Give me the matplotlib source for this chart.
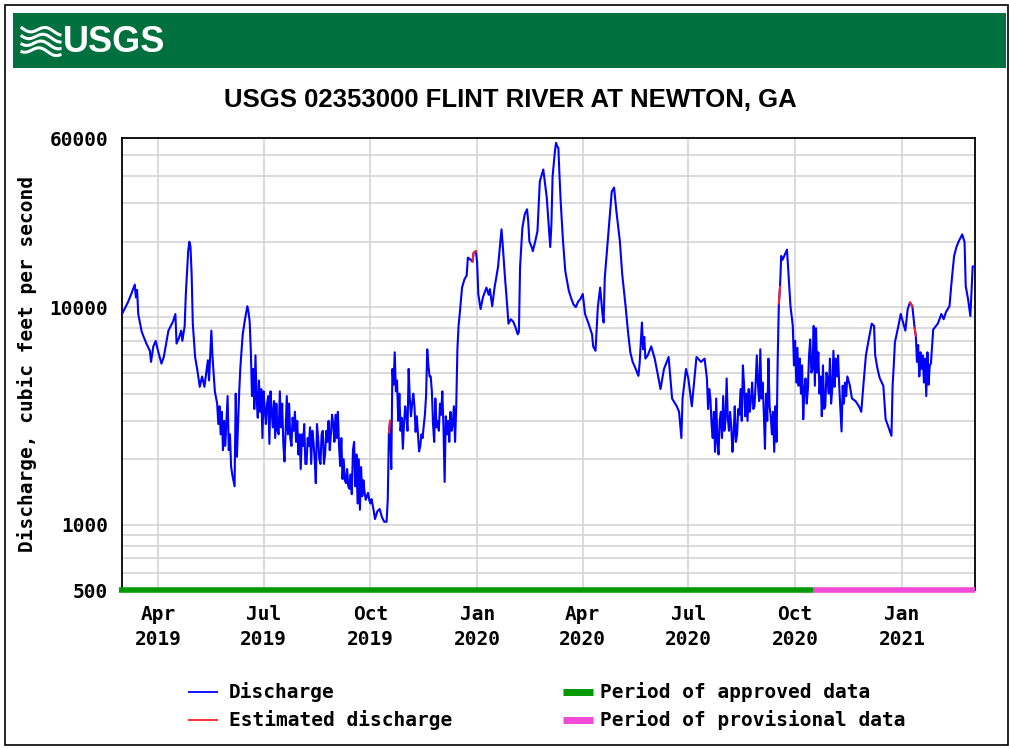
import matplotlib
matplotlib.use('Agg')
import matplotlib.pyplot as plt
from matplotlib.lines import Line2D
from matplotlib.patches import Rectangle
import numpy as np
import pandas as pd

# daily discharge: days since 2019-03-01, cubic feet per second
day = [0, 5, 8, 11, 12, 13, 14, 17, 21, 24, 25, 27, 29, 31, 34, 36, 40, 42, 44, 46,
       47, 49, 51, 52, 54, 55, 57, 58, 59, 60, 61, 63, 65, 67, 69, 71, 74, 75, 77, 78,
       80, 82, 83, 84, 85, 86, 87, 88, 89, 91, 92, 93, 94, 95, 97, 98, 99, 101, 102, 104,
       106, 108, 109, 110, 111, 112, 113, 114, 115, 116, 117, 118, 119, 120, 121, 122, 124, 125, 127, 128,
       130, 132, 133, 134, 136, 137, 139, 140, 142, 143, 145, 147, 149, 150, 152, 153, 154, 156, 158, 160,
       162, 163, 165, 167, 168, 170, 172, 174, 176, 178, 179, 181, 183, 184, 185, 186, 187, 188, 189, 190,
       193, 196, 198, 200, 201, 202, 203, 204, 205, 206, 207, 208, 209, 211, 213, 215, 217, 218, 220, 222,
       224, 226, 228, 229, 230, 231, 232, 233, 235, 236, 237, 238, 239, 240, 242, 243, 245, 247, 248, 249,
       251, 253, 254, 256, 258, 260, 262, 263, 264, 266, 267, 268, 269, 270, 271, 272, 274, 276, 277, 278,
       279, 280, 282, 283, 284, 286, 287, 288, 289, 290, 291, 293, 295, 297, 298, 300, 302, 303, 305, 306,
       307, 309, 311, 314, 316, 317, 319, 321, 324, 326, 327, 328, 330, 332, 333, 335, 337, 339, 341, 342,
       343, 345, 347, 349, 350, 351, 353, 354, 356, 358, 360, 363, 364, 366, 368, 369, 370, 371, 373, 374,
       375, 376, 377, 378, 380, 382, 385, 387, 389, 391, 393, 395, 397, 399, 402, 405, 406, 408, 410, 412,
       414, 415, 416, 419, 422, 424, 426, 429, 431, 434, 436, 438, 440, 442, 445, 446, 448, 449, 450, 451,
       453, 456, 459, 462, 464, 467, 471, 474, 478, 480, 482, 483, 486, 488, 491, 495, 499, 502, 504, 507,
       508, 510, 511, 512, 513, 514, 515, 517, 518, 519, 521, 522, 523, 524, 526, 527, 528, 529, 531, 533,
       534, 535, 537, 538, 540, 541, 543, 545, 547, 548, 550, 551, 552, 554, 555, 557, 558, 559, 560, 562,
       563, 564, 565, 566, 567, 568, 569, 570, 573, 574, 576, 578, 579, 580, 581, 582, 583, 584, 585, 586,
       587, 588, 589, 590, 592, 593, 594, 596, 597, 598, 599, 600, 601, 603, 604, 606, 607, 609, 610, 611,
       613, 615, 617, 618, 620, 621, 623, 625, 627, 629, 632, 635, 637, 639, 641, 643, 646, 648, 649, 651,
       653, 656, 658, 660, 663, 664, 665, 666, 669, 671, 673, 675, 677, 679, 681, 683, 684, 685, 686, 687,
       688, 689, 691, 692, 693, 694, 696, 698, 699, 703, 706, 708, 710, 713, 715, 717, 719, 721, 724, 726,
       727, 729, 731, 733, 735]
cfs = [9300, 10500, 11500, 12700, 11100, 12000, 9300, 7700, 6800, 6300, 5600, 6600, 7000, 6300, 5500, 5900, 7800, 8200, 8600, 9300,
       6800, 7200, 7800, 7000, 8200, 11500, 18000, 20000, 19000, 14200, 8400, 5900, 5100, 4300, 4800, 4300, 5700, 4600, 7800, 5900,
       4100, 3600, 2900, 3500, 2600, 3300, 2200, 3000, 2300, 3900, 2200, 2600, 1850, 1700, 1500, 4000, 2050, 4100, 5300, 7500,
       8800, 10100, 9500, 8600, 6300, 3900, 5200, 3400, 6000, 3800, 3100, 4600, 3300, 4200, 2500, 4100, 2900, 3600, 2350, 4100,
       2800, 2500, 3600, 2700, 4100, 2800, 2350, 1950, 3900, 2600, 2500, 3100, 3300, 2400, 2100, 2600, 1800, 2300, 1900, 2500,
       2800, 1900, 2400, 1550, 2900, 2000, 2600, 1900, 2700, 3000, 2200, 3200, 2400, 3200, 2500, 3300, 2300, 1860, 2500, 1620,
       1550, 1460, 1380, 2400, 1500, 2100, 1250, 2000, 1170, 1840, 1350, 1600, 1410, 1350, 1300, 1310, 1150, 1060, 1150, 1180,
       1080, 1030, 1030, 1310, 2650, 3000, 1800, 5200, 6200, 4100, 4600, 3000, 4000, 2700, 2230, 2900, 3150, 5200, 3800, 3150,
       4000, 2670, 3150, 2170, 2600, 2850, 3900, 6400, 5400, 4800, 4100, 2900, 2400, 3800, 2800, 3000, 3600, 4100, 2800, 1570,
       3150, 2600, 2400, 3300, 2700, 3500, 2400, 3500, 6400, 8200, 9300, 12300, 13400, 14000, 16900, 16600, 16200, 17800, 18100, 16000,
       11500, 9800, 11100, 12300, 11400, 12100, 10100, 12300, 15300, 20100, 22800, 19500, 13700, 10000, 8400, 8800, 8600, 8100, 7500, 7700,
       15300, 23200, 26700, 28200, 25000, 20100, 18900, 18100, 20000, 22400, 37800, 43000, 39000, 31900, 22400, 18900, 24000, 39700, 52000, 57000,
       55000, 54000, 40000, 30600, 20100, 14600, 11900, 11000, 10300, 10000, 10600, 10900, 11500, 9300, 8400, 7500, 6600, 6300, 10000, 12300,
       9300, 8500, 13700, 21600, 34000, 35500, 27600, 20100, 14200, 10000, 7700, 6200, 5600, 5300, 4830, 5500, 8500, 6400, 7300, 5800,
       6000, 6600, 5800, 4800, 4200, 5200, 5900, 3800, 3500, 3300, 2500, 3800, 5200, 4700, 3500, 5900, 5600, 5800, 4700, 3800,
       2900, 3300, 2160, 3800, 2400, 2100, 3000, 2500, 3900, 2700, 4700, 3100, 2700, 3300, 2160, 2600, 3500, 2400, 3400, 4200,
       3000, 5400, 3150, 4000, 4200, 3300, 4500, 3500, 6000, 4400, 6400, 3800, 4500, 2230, 4000, 5800, 3500, 3150, 2600, 2160,
       3500, 2400, 5800, 10400, 12400, 17200, 16500, 16900, 18400, 15000, 10100, 8200, 5400, 7000, 4500, 6500, 4350, 5800, 4000, 5400,
       3050, 4200, 4700, 3600, 6000, 7100, 5000, 8200, 4350, 8000, 5000, 6200, 4000, 3150, 5400, 3500, 5000, 4000, 5800, 3600,
       6300, 5800, 6000, 4350, 2680, 4350, 4500, 4800, 4400, 3800, 3700, 3500, 3300, 4500, 6000, 6900, 8400, 8200, 6000, 5200,
       4700, 4350, 3050, 2850, 2560, 4350, 5400, 6900, 8200, 9300, 8500, 7800, 9800, 10500, 10100, 8000, 7400, 5600, 6700, 4800,
       6200, 5200, 4500, 5800, 3900, 6200, 5400, 6600, 7900, 8400, 9300, 8800, 9500, 10100, 13400, 17200, 18900, 20100, 21600, 19900,
       12500, 10900, 9100, 15400, 15400]

# extra daily swings in the noisy low-flow stretches
day_extra = [123, 126, 129, 131, 135, 138, 141, 144, 146, 148, 151, 155, 157, 159, 161, 164,
             166, 169, 171, 173, 175, 177, 180, 182, 191, 192, 194, 195, 197, 199, 210, 212,
             214, 234, 241, 244, 246, 250, 252, 255, 257, 259, 261, 265, 273, 275, 281, 285,
             505, 506, 509, 516, 520, 525, 530, 532, 536, 539, 542, 544, 546, 549, 553, 556,
             561, 591, 595, 602, 605, 608, 612, 614, 616, 619, 622, 624, 690, 695, 697]
cfs_extra = [3400, 3900, 3300, 3700, 2600, 3600, 2700, 3600, 2300, 2700, 3000, 2600, 2900, 1900, 2300, 2700,
             2000, 2500, 1900, 2700, 2100, 2400, 2600, 2900, 2000, 1600, 1800, 1500, 1700, 2200, 1300, 1400,
             1250, 4400, 3100, 3500, 2700, 3600, 3500, 2600, 2300, 2500, 3200, 4800, 2700, 3200, 3000, 2900,
             3400, 4200, 2500, 3300, 3000, 2800, 2600, 3200, 4400, 3000, 3800, 3400, 4500, 3700, 3300, 3000,
             3300, 4200, 5200, 4800, 3400, 4700, 4200, 4300, 4800, 3400, 3600, 3900, 6000, 4400, 5500]

# stretches flagged as estimated (drawn red): first and last day of each
est_start = [230, 302, 566, 679, 683]
est_end = [231, 305, 567, 681, 684]

start = pd.Timestamp('2019-03-01')
end_day = 735
approved_end_day = 595

tick_months = ['Apr\n2019', 'Jul\n2019', 'Oct\n2019', 'Jan\n2020',
               'Apr\n2020', 'Jul\n2020', 'Oct\n2020', 'Jan\n2021']
tick_dates = ['2019-04-01', '2019-07-01', '2019-10-01', '2020-01-01',
              '2020-04-01', '2020-07-01', '2020-10-01', '2021-01-01']

BLUE = '#0000ff'
RED = '#ff2020'
GREEN = '#009a00'
MAGENTA = '#f04ad8'
USGS_GREEN = '#00703f'
mono = 'DejaVu Sans Mono'
fs = 14

W, H = 1009, 748
fig = plt.figure(figsize=(W / 100, H / 100), dpi=100)


def fx(px):
    return px / W


def fy(py):
    return 1 - py / H


# outer frame and header band
fig.add_artist(Rectangle((fx(5), fy(745)), fx(1003), 740 / H, fill=False,
                         ec='black', lw=1.2, transform=fig.transFigure))
fig.add_artist(Rectangle((fx(13), fy(68)), fx(993), 55 / H, fc=USGS_GREEN,
                         ec='none', transform=fig.transFigure))
# wave logo
for k in range(4):
    t = np.linspace(0, 1, 40)
    xs = 22 + 38 * t
    ys = 28 + k * 7 + 3 * np.sin(2 * np.pi * t * 1.2 + k * 0.4) + 4 * t
    fig.add_artist(Line2D(fx(xs), fy(ys), color='white', lw=2.2,
                          transform=fig.transFigure))
fig.text(fx(63), fy(42), 'USGS', color='white', fontsize=26, fontweight='bold',
         family='Liberation Sans', ha='left', va='center')

fig.text(fx(510), fy(100), 'USGS 02353000 FLINT RIVER AT NEWTON, GA',
         fontsize=18.5, fontweight='bold', family='Liberation Sans',
         ha='center', va='center')

ax = fig.add_axes([fx(122), fy(590), fx(853), 452 / H])

all_days = np.array(day + day_extra)
all_cfs = np.array(cfs + cfs_extra)
order = np.argsort(all_days)
all_days = all_days[order]
all_cfs = all_cfs[order]
dates = start + pd.to_timedelta(all_days, unit='D')

ax.plot(dates, all_cfs, color=BLUE, lw=1.5, zorder=3)
for a, b in zip(est_start, est_end):
    sel = (all_days >= a) & (all_days <= b)
    ax.plot(dates[sel], all_cfs[sel], color=RED, lw=1.5, zorder=4)

ax.set_yscale('log')
ax.set_ylim(500, 60000)
ax.set_xlim(start, start + pd.Timedelta(days=end_day))

ygrid = [600, 700, 800, 900, 1000, 2000, 3000, 4000, 5000, 6000, 7000, 8000,
         9000, 10000, 20000, 30000, 40000, 50000]
for v in ygrid:
    ax.axhline(v, color='#d4d4d4', lw=1.2, zorder=1)
for td in tick_dates:
    ax.axvline(pd.Timestamp(td), color='#d4d4d4', lw=1.2, zorder=1)

ax.set_yticks([500, 1000, 10000, 60000])
ax.set_yticklabels(['500', '1000', '10000', '60000'])
ax.yaxis.set_minor_locator(matplotlib.ticker.NullLocator())
ax.set_xticks([pd.Timestamp(t) for t in tick_dates])
ax.set_xticklabels(tick_months, linespacing=1.35)
ax.tick_params(length=0, labelsize=fs)
ax.tick_params(axis='y', pad=10)
ax.tick_params(axis='x', pad=11)
for lab in ax.get_xticklabels() + ax.get_yticklabels():
    lab.set_family(mono)
    lab.set_fontweight('bold')

ax.set_ylabel('Discharge, cubic feet per second', family=mono, fontweight='bold',
              fontsize=fs, labelpad=9)

for s in ax.spines.values():
    s.set_color('black')
    s.set_linewidth(1.3)

# approved / provisional bar along the bottom
ax.plot([start - pd.Timedelta(days=3), start + pd.Timedelta(days=approved_end_day)],
        [500, 500], color=GREEN, lw=4, clip_on=False, zorder=5,
        solid_capstyle='butt')
ax.plot([start + pd.Timedelta(days=approved_end_day), start + pd.Timedelta(days=end_day)],
        [500, 500], color=MAGENTA, lw=4, clip_on=False, zorder=5,
        solid_capstyle='butt')

# legend
items = [(188, 229, 692, BLUE, 1.3, 'Discharge'),
         (188, 229, 720, RED, 1.3, 'Estimated discharge'),
         (563, 600, 692, GREEN, 5, 'Period of approved data'),
         (563, 600, 720, MAGENTA, 5, 'Period of provisional data')]
for x0, xt, y0, c, lw, txt in items:
    fig.add_artist(Line2D([fx(x0), fx(x0 + 30)], [fy(y0), fy(y0)], color=c, lw=lw,
                          transform=fig.transFigure, solid_capstyle='butt'))
    fig.text(fx(xt), fy(y0), txt, family=mono, fontweight='bold', fontsize=fs,
             ha='left', va='center')

fig.savefig('out.png', dpi=100)
